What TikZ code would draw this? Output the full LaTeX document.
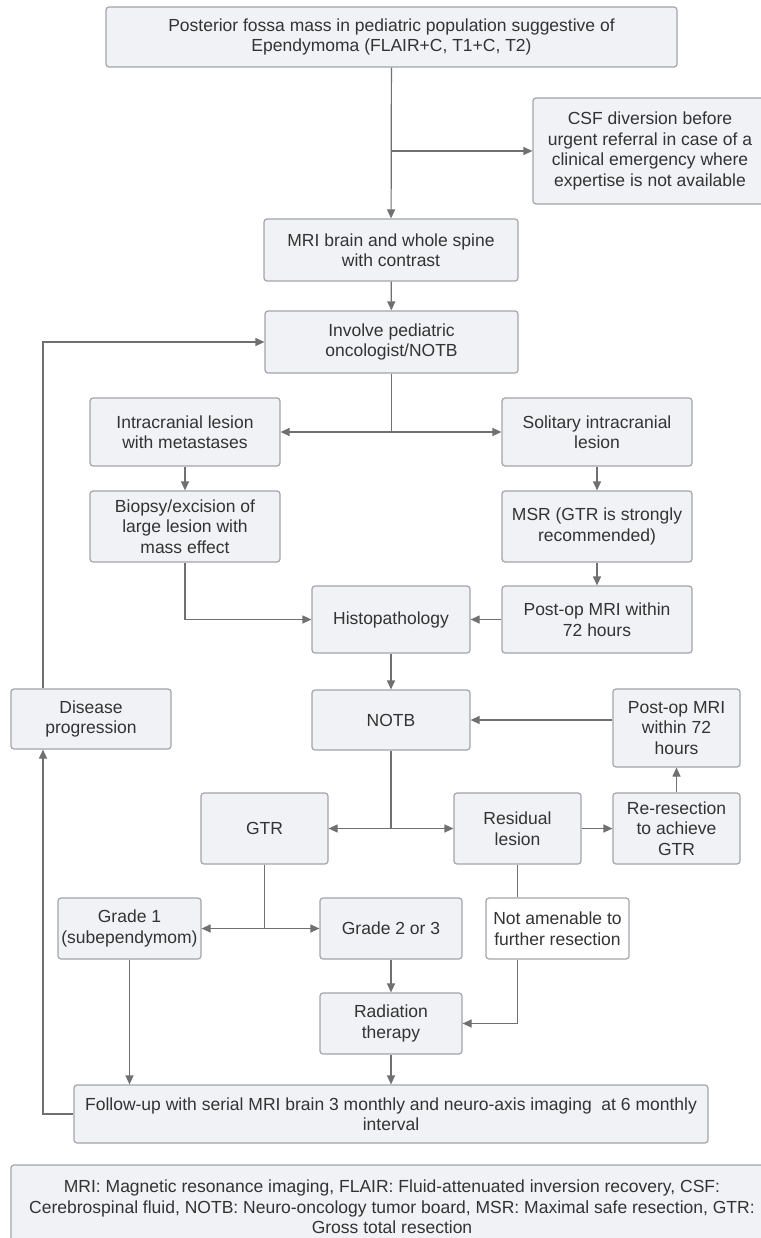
\documentclass[tikz,border=0pt]{standalone}
\usepackage{fontspec}
\setmainfont{Liberation Sans}
\usetikzlibrary{arrows.meta}
\definecolor{boxfill}{HTML}{F1F2F6}
\definecolor{boxline}{HTML}{A3A5AA}
\definecolor{wire}{HTML}{707070}
\definecolor{ink}{HTML}{333333}
\begin{document}
\begin{tikzpicture}[x=1pt,y=-1pt,
    box/.style={draw=boxline,fill=boxfill,line width=1.2pt,rounded corners=3pt,
      align=center,inner sep=0pt,text=ink,font=\fontsize{17.5}{20.5}\selectfont},
    plain/.style={box,fill=white},
    arr/.style={draw=wire,line width=1.2pt,-{Triangle[length=9pt,width=8pt]}},
    wire/.style={draw=wire,line width=1.2pt}]
  \useasboundingbox[fill=white] (0,0) rectangle (760,1238);
  % boxes
  \node[box,minimum width=571,minimum height=60] (top) at (391.5,37)
    {Posterior fossa mass in pediatric population suggestive of\\Ependymoma (FLAIR+C, T1+C, T2)};
  \node[box,minimum width=234,minimum height=106] (csf) at (650,151)
    {CSF diversion before\\urgent referral in case of a\\clinical emergency where\\expertise is not available};
  \node[box,minimum width=254,minimum height=62] (mri) at (391,250)
    {MRI brain and whole spine\\with contrast};
  \node[box,minimum width=253,minimum height=62] (involve) at (391.5,342)
    {Involve pediatric\\oncologist/NOTB};
  \node[box,minimum width=190,minimum height=68] (intra) at (185,432)
    {Intracranial lesion\\with metastases};
  \node[box,minimum width=190,minimum height=68] (soli) at (597,432)
    {Solitary intracranial\\lesion};
  \node[box,minimum width=190,minimum height=71] (biopsy) at (185,526.5)
    {Biopsy/excision of\\large lesion with\\mass effect};
  \node[box,minimum width=190,minimum height=71] (msr) at (597,526.5)
    {MSR (GTR is strongly\\recommended)};
  \node[box,minimum width=158,minimum height=67] (histo) at (391,619.5)
    {Histopathology};
  \node[box,minimum width=190,minimum height=67] (postopa) at (597,619.5)
    {Post-op MRI within\\72 hours};
  \node[box,minimum width=160,minimum height=60] (disease) at (91,719)
    {Disease\\progression};
  \node[box,minimum width=158,minimum height=60] (notb) at (391,720)
    {NOTB};
  \node[box,minimum width=127,minimum height=78] (postopb) at (676.5,728)
    {Post-op MRI\\within 72\\hours};
  \node[box,minimum width=127,minimum height=71] (gtr) at (264.5,828.5)
    {GTR};
  \node[box,minimum width=127,minimum height=71] (resid) at (517.5,828.5)
    {Residual\\lesion};
  \node[box,minimum width=127,minimum height=71] (reres) at (676.5,828.5)
    {Re-resection\\to achieve\\GTR};
  \node[box,minimum width=143,minimum height=61] (gradea) at (129.5,928.5)
    {Grade 1\\(subependymom)};
  \node[box,minimum width=142,minimum height=61] (gradeb) at (391,928.5)
    {Grade 2 or 3};
  \node[plain,minimum width=143,minimum height=61] (notam) at (557.5,928.5)
    {Not amenable to\\further resection};
  \node[box,minimum width=142,minimum height=61] (radio) at (391,1023.5)
    {Radiation\\therapy};
  \node[box,minimum width=634,minimum height=58] (follow) at (391,1114)
    {Follow-up with serial MRI brain 3 monthly and neuro-axis imaging\ \ at 6 monthly\\interval};
  \node[box,minimum width=762,minimum height=84] (legend) at (392,1207)
    {MRI: Magnetic resonance imaging, FLAIR: Fluid-attenuated inversion recovery, CSF:\\
     Cerebrospinal fluid, NOTB: Neuro-oncology tumor board, MSR: Maximal safe resection, GTR:\\
     Gross total resection};
  \coordinate (loop) at (43,0);
  % connectors
  \draw[arr] (top) -- (mri);
  \draw[arr] (top.south |- csf.west) -- (csf.west);
  \draw[arr] (mri) -- (involve);
  \draw[arr] (involve.south) |- (intra.east);
  \draw[arr] (involve.south) |- (soli.west);
  \draw[arr] (intra) -- (biopsy);
  \draw[arr] (soli) -- (msr);
  \draw[arr] (msr) -- (postopa);
  \draw[arr] (biopsy.south) |- (histo.west);
  \draw[arr] (postopa) -- (histo);
  \draw[arr] (histo) -- (notb);
  \draw[arr] (postopb.west |- notb.east) -- (notb.east);
  \draw[arr] (notb.south) |- (gtr.east);
  \draw[arr] (notb.south) |- (resid.west);
  \draw[arr] (resid) -- (reres);
  \draw[arr] (reres) -- (postopb);
  \draw[arr] (gtr.south) |- (gradea.east);
  \draw[arr] (gtr.south) |- (gradeb.west);
  \draw[wire] (resid.south) -- (resid.south |- notam.north);
  \draw[arr] (resid.south |- notam.south) |- (radio.east);
  \draw[arr] (gradeb) -- (radio);
  \draw[arr] (radio) -- (follow);
  \draw[arr] (gradea.south) -- (gradea.south |- follow.north);
  \draw[arr] (follow.west) -| (loop |- disease.south);
  \draw[arr] (loop |- disease.north) |- (involve.west);
\end{tikzpicture}
\end{document}
